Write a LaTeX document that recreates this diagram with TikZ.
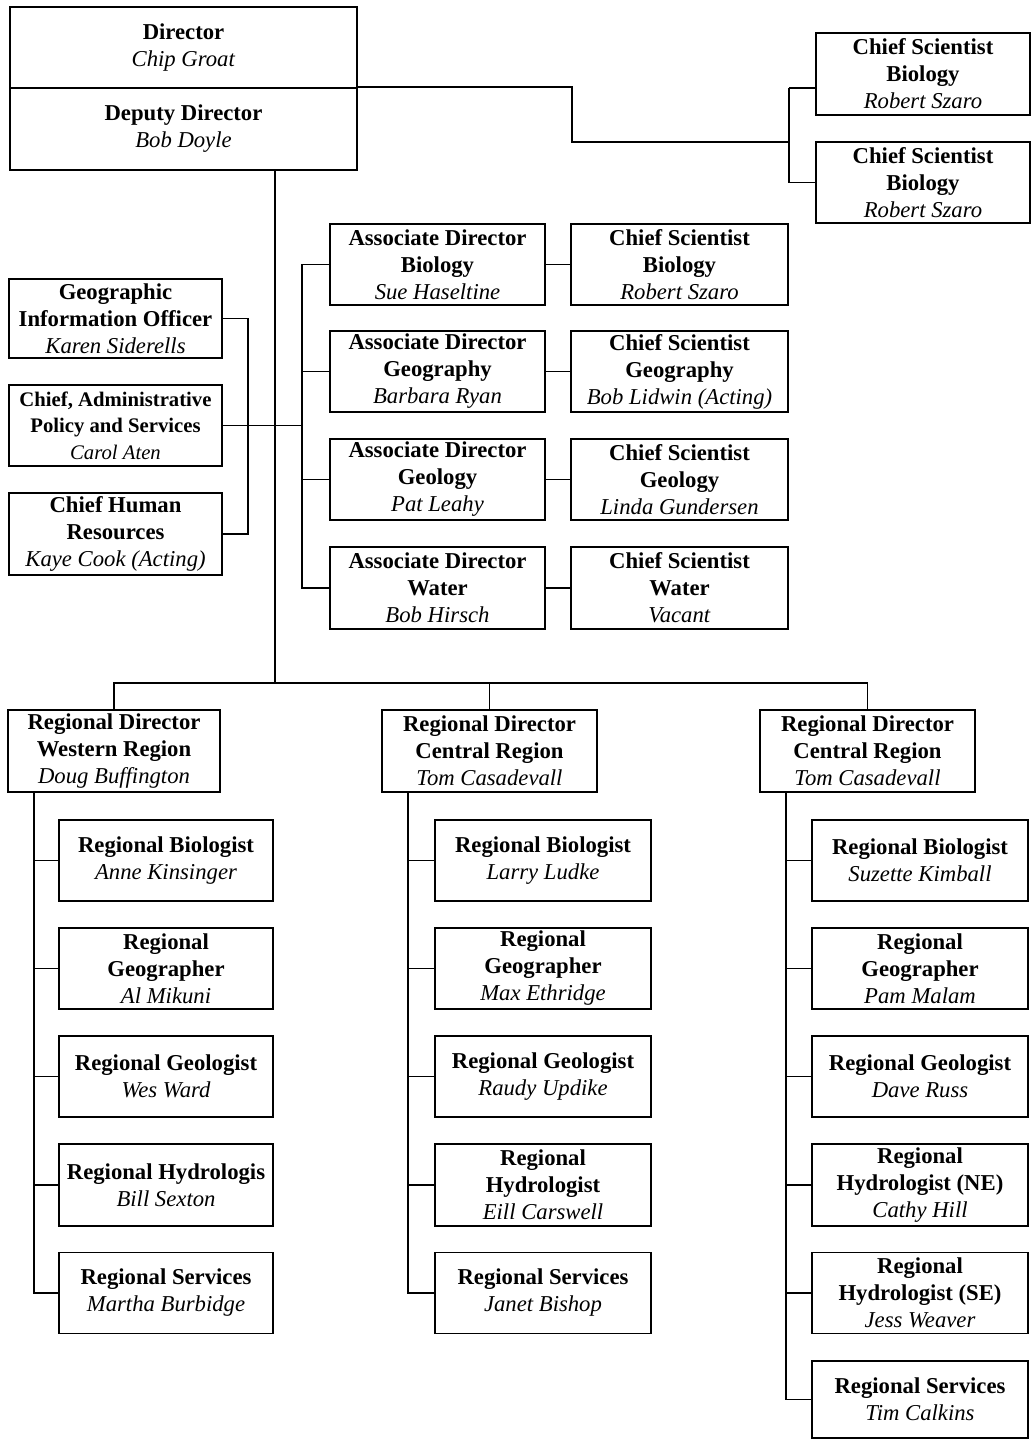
\documentclass[tikz,border=0pt]{standalone}
\usepackage{fontspec}
\setmainfont{Liberation Serif}
\newcommand{\rolename}[1]{\textbf{#1}}
\newcommand{\personname}[1]{\textit{#1}}
\tikzset{
  orgbox/.style={draw, line width=1.4pt, inner sep=0pt, align=center,
    font=\fontsize{22.7}{27}\selectfont, minimum height=81},
  smallorg/.style={orgbox, font=\fontsize{20.7}{26.5}\selectfont},
  link/.style={line width=1.6pt},
}
\begin{document}
\begin{tikzpicture}[x=1pt,y=-1pt]
\useasboundingbox[fill=white] (0,0) rectangle (1031,1439);

% --- top management ---
\node[orgbox, minimum width=347] (dir) at (183.5,47.5)
  {\rolename{Director}\\\personname{Chip Groat}};
\node[orgbox, minimum width=347, minimum height=82] (dep) at (183.5,129)
  {\rolename{Deputy Director}\\\personname{Bob Doyle}};

\node[orgbox, minimum width=214, minimum height=82] (csr1) at (923,74)
  {\rolename{Chief Scientist}\\\rolename{Biology}\\\personname{Robert Szaro}};
\node[orgbox, minimum width=214] (csr2) at (923,182.5)
  {\rolename{Chief Scientist}\\\rolename{Biology}\\\personname{Robert Szaro}};

% --- staff offices ---
\node[orgbox, minimum width=213, minimum height=79] (gio) at (115.5,318.5)
  {\rolename{Geographic}\\\rolename{Information Officer}\\\personname{Karen Siderells}};
\node[smallorg, minimum width=213] (cas) at (115.5,425.5)
  {\rolename{Chief, Administrative}\\\rolename{Policy and Services}\\\personname{Carol Aten}};
\node[orgbox, minimum width=213, minimum height=82] (hr) at (115.5,534)
  {\rolename{Chief Human}\\\rolename{Resources}\\\personname{Kaye Cook (Acting)}};

% --- associate directors and chief scientists ---
\node[orgbox, minimum width=215] (ad1) at (437.5,264.5)
  {\rolename{Associate Director}\\\rolename{Biology}\\\personname{Sue Haseltine}};
\node[orgbox, minimum width=215] (ad2) at (437.5,371.5)
  {\rolename{Associate Director}\\\rolename{Geography}\\\personname{Barbara Ryan}};
\node[orgbox, minimum width=215] (ad3) at (437.5,479.5)
  {\rolename{Associate Director}\\\rolename{Geology}\\\personname{Pat Leahy}};
\node[orgbox, minimum width=215, minimum height=82] (ad4) at (437.5,588)
  {\rolename{Associate Director}\\\rolename{Water}\\\personname{Bob Hirsch}};

\node[orgbox, minimum width=217] (cs1) at (679.5,264.5)
  {\rolename{Chief Scientist}\\\rolename{Biology}\\\personname{Robert Szaro}};
\node[orgbox, minimum width=217] (cs2) at (679.5,371.5)
  {\rolename{Chief Scientist}\\\rolename{Geography}\\\personname{Bob Lidwin (Acting)}};
\node[orgbox, minimum width=217] (cs3) at (679.5,479.5)
  {\rolename{Chief Scientist}\\\rolename{Geology}\\\personname{Linda Gundersen}};
\node[orgbox, minimum width=217, minimum height=82] (cs4) at (679.5,588)
  {\rolename{Chief Scientist}\\\rolename{Water}\\\personname{Vacant}};

% --- regional directors ---
\node[orgbox, minimum width=212, minimum height=82] (rd1) at (114,751)
  {\rolename{Regional Director}\\\rolename{Western Region}\\\personname{Doug Buffington}};
\node[orgbox, minimum width=215, minimum height=82] (rd2) at (489.5,751)
  {\rolename{Regional Director}\\\rolename{Central Region}\\\personname{Tom Casadevall}};
\node[orgbox, minimum width=215, minimum height=82] (rd3) at (867.5,751)
  {\rolename{Regional Director}\\\rolename{Central Region}\\\personname{Tom Casadevall}};

% --- western region staff ---
\node[orgbox, minimum width=214] (w1) at (166,860.5)
  {\rolename{Regional Biologist}\\\personname{Anne Kinsinger}};
\node[orgbox, minimum width=214] (w2) at (166,968.5)
  {\rolename{Regional}\\\rolename{Geographer}\\\personname{Al Mikuni}};
\node[orgbox, minimum width=214] (w3) at (166,1076.5)
  {\rolename{Regional Geologist}\\\personname{Wes Ward}};
\node[orgbox, minimum width=214, minimum height=82] (w4) at (166,1185)
  {\rolename{Regional Hydrologis}\\\personname{Bill Sexton}};
\node[orgbox, minimum width=214] (w5) at (166,1293)
  {\rolename{Regional Services}\\\personname{Martha Burbidge}};

% --- central region staff ---
\node[orgbox, minimum width=216] (c1) at (543,860.5)
  {\rolename{Regional Biologist}\\\personname{Larry Ludke}};
\node[orgbox, minimum width=216] (c2) at (543,968.5)
  {\rolename{Regional}\\\rolename{Geographer}\\\personname{Max Ethridge}};
\node[orgbox, minimum width=216] (c3) at (543,1076.5)
  {\rolename{Regional Geologist}\\\personname{Raudy Updike}};
\node[orgbox, minimum width=216, minimum height=82] (c4) at (543,1185)
  {\rolename{Regional}\\\rolename{Hydrologist}\\\personname{Eill Carswell}};
\node[orgbox, minimum width=216] (c5) at (543,1293)
  {\rolename{Regional Services}\\\personname{Janet Bishop}};

% --- eastern column staff ---
\node[orgbox, minimum width=216] (e1) at (920,860.5)
  {\rolename{Regional Biologist}\\\personname{Suzette Kimball}};
\node[orgbox, minimum width=216] (e2) at (920,968.5)
  {\rolename{Regional}\\\rolename{Geographer}\\\personname{Pam Malam}};
\node[orgbox, minimum width=216] (e3) at (920,1076.5)
  {\rolename{Regional Geologist}\\\personname{Dave Russ}};
\node[orgbox, minimum width=216, minimum height=82] (e4) at (920,1185)
  {\rolename{Regional}\\\rolename{Hydrologist (NE)}\\\personname{Cathy Hill}};
\node[orgbox, minimum width=216] (e5) at (920,1293)
  {\rolename{Regional}\\\rolename{Hydrologist (SE)}\\\personname{Jess Weaver}};
\node[orgbox, minimum width=216, minimum height=77] (e6) at (920,1399.5)
  {\rolename{Regional Services}\\\personname{Tim Calkins}};

% --- connector junctions ---
\coordinate (bend) at (572,142);
\coordinate (rsplit) at (789,142);
\coordinate (rtop) at (789,88);
\coordinate (trunktop) at (275,170);
\coordinate (trunk) at (275,683);
\coordinate (staffbus) at (248,0);
\coordinate (adbus) at (302,0);
\coordinate (s1) at (34,792);
\coordinate (s2) at (408,792);
\coordinate (s3) at (786,792);

% director to the two chief scientists
\draw[link] (dep.north east) -| (bend) -- (rsplit);
\draw[link] (rtop) -- (csr1.west |- rtop);
\draw[link] (rtop) |- (csr2.west);

% main trunk
\draw[link] (trunktop) -- (trunk);

% staff offices
\draw[link] (gio.east) -| (gio.east -| staffbus) |- (hr.east);
\draw[link] (cas.east) -- (cas.east -| adbus);

% associate directors
\draw[link] (ad1.west) -| (ad1.west -| adbus) |- (ad4.west);
\draw[link] (ad2.west) -- (ad2.west -| adbus);
\draw[link] (ad3.west) -- (ad3.west -| adbus);
\foreach \i in {1,2,3,4} \draw[link] (ad\i.east) -- (cs\i.west);

% regional directors
\draw[link] (rd1.north) |- (trunk) -| (rd3.north);
\draw[link] (rd2.north) -- (rd2.north |- trunk);

% regional staff
\draw[link] (s1) |- (w5.west);
\draw[link] (s2) |- (c5.west);
\draw[link] (s3) |- (e6.west);
\foreach \i in {1,2,3,4} {
  \draw[link] (w\i.west) -- (w\i.west -| s1);
  \draw[link] (c\i.west) -- (c\i.west -| s2);
}
\foreach \i in {1,2,3,4,5} \draw[link] (e\i.west) -- (e\i.west -| s3);
\end{tikzpicture}
\end{document}
